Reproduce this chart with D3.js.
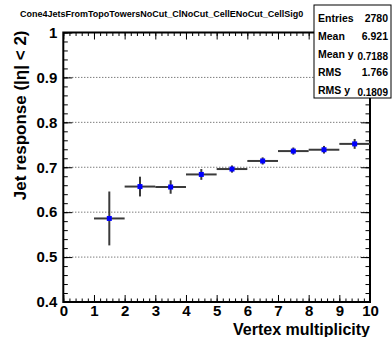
<!DOCTYPE html>
<html>
<head>
<meta charset="utf-8">
<script src="https://cdn.jsdelivr.net/npm/d3@7"></script>
<style>
  body { margin: 0; background: #fff; }
  svg text { font-family: "Liberation Sans", Arial, Helvetica, sans-serif; font-weight: bold; }
</style>
</head>
<body>
<div id="chart"></div>
<script>
// Profile: jet response vs vertex multiplicity
const binCenters = [1.5, 2.5, 3.5, 4.5, 5.5, 6.5, 7.5, 8.5, 9.5];
const responses = [0.586, 0.657, 0.656, 0.684, 0.696, 0.714, 0.736, 0.739, 0.752];
const errors = [0.060, 0.022, 0.015, 0.012, 0.008, 0.008, 0.008, 0.0085, 0.011];
const binHalfWidth = 0.5;

const xTicks = [0, 1, 2, 3, 4, 5, 6, 7, 8, 9, 10];
const yTicks = [0.4, 0.5, 0.6, 0.7, 0.8, 0.9, 1];
const yGrid = [0.5, 0.6, 0.7, 0.8, 0.9];

const statLabels = ['Entries', 'Mean', 'Mean y', 'RMS', 'RMS y'];
const statValues = ['2780', '6.921', '0.7188', '1.766', '0.1809'];

const W = 392, H = 337;
const frame = { left: 63.3, right: 370, top: 32.5, bottom: 302 };

const svg = d3.select('#chart')
    .append('svg')
    .attr('width', W)
    .attr('height', H);

const x = d3.scaleLinear().domain([0, 10]).range([frame.left, frame.right]);
const y = d3.scaleLinear().domain([0.4, 1]).range([frame.bottom, frame.top]);

const xMinor = d3.range(0, 10.001, 0.2).map(v => +v.toFixed(2));
const yMinor = d3.range(0.4, 1.0001, 0.02).map(v => +v.toFixed(2));

// Grid lines
svg.append('g')
    .selectAll('line')
    .data(yGrid)
    .enter()
    .append('line')
    .attr('x1', frame.left)
    .attr('x2', frame.right)
    .attr('y1', d => y(d))
    .attr('y2', d => y(d))
    .attr('stroke', '#444')
    .attr('stroke-width', 1)
    .attr('stroke-dasharray', '1,2');

// Axes helper
function drawAxis(axis, transform, showLabels) {
    const g = svg.append('g')
        .attr('transform', transform)
        .call(axis);
    g.select('.domain').remove();
    g.selectAll('line').attr('stroke', '#000').attr('stroke-width', 1);
    if (!showLabels) g.selectAll('text').remove();
    return g;
}

// Bottom axis
drawAxis(d3.axisBottom(x).tickValues(xMinor).tickSize(-3.5).tickFormat(''),
    `translate(0,${frame.bottom})`, false);
const xAxisG = drawAxis(d3.axisBottom(x).tickValues(xTicks).tickSize(-7).tickPadding(5).tickFormat(d3.format('d')),
    `translate(0,${frame.bottom})`, true);
xAxisG.selectAll('text')
    .style('font-size', '15px')
    .attr('fill', '#000')
    .attr('y', 3)
    .attr('dy', '0.71em');

// Top axis
drawAxis(d3.axisTop(x).tickValues(xMinor).tickSize(-3.5).tickFormat(''),
    `translate(0,${frame.top})`, false);
drawAxis(d3.axisTop(x).tickValues(xTicks).tickSize(-7).tickFormat(''),
    `translate(0,${frame.top})`, false);

// Left axis
drawAxis(d3.axisLeft(y).tickValues(yMinor).tickSize(-4.5).tickFormat(''),
    `translate(${frame.left},0)`, false);
const yAxisG = drawAxis(d3.axisLeft(y).tickValues(yTicks).tickSize(-9).tickPadding(6)
    .tickFormat(d => d === 1 ? '1' : d3.format('.1f')(d)),
    `translate(${frame.left},0)`, true);
yAxisG.selectAll('text')
    .style('font-size', '15px')
    .attr('fill', '#000');

// Right axis
drawAxis(d3.axisRight(y).tickValues(yMinor).tickSize(-4.5).tickFormat(''),
    `translate(${frame.right},0)`, false);
drawAxis(d3.axisRight(y).tickValues(yTicks).tickSize(-9).tickFormat(''),
    `translate(${frame.right},0)`, false);

// Frame
svg.append('rect')
    .attr('x', frame.left)
    .attr('y', frame.top)
    .attr('width', frame.right - frame.left)
    .attr('height', frame.bottom - frame.top)
    .attr('fill', 'none')
    .attr('stroke', '#000')
    .attr('stroke-width', 2);

// Data
const data = binCenters.map((c, i) => ({ x: c, y: responses[i], e: errors[i] }));
const pts = svg.append('g').attr('class', 'points');

pts.selectAll('.hbar')
    .data(data)
    .enter()
    .append('line')
    .attr('class', 'hbar')
    .attr('x1', d => x(d.x - binHalfWidth))
    .attr('x2', d => x(d.x + binHalfWidth))
    .attr('y1', d => y(d.y))
    .attr('y2', d => y(d.y))
    .attr('stroke', '#3a3a3a')
    .attr('stroke-width', 2);

pts.selectAll('.vbar')
    .data(data)
    .enter()
    .append('line')
    .attr('class', 'vbar')
    .attr('x1', d => x(d.x))
    .attr('x2', d => x(d.x))
    .attr('y1', d => y(d.y - d.e))
    .attr('y2', d => y(d.y + d.e))
    .attr('stroke', '#3a3a3a')
    .attr('stroke-width', 2);

pts.selectAll('.marker')
    .data(data)
    .enter()
    .append('rect')
    .attr('class', 'marker')
    .attr('x', d => x(d.x) - 2.5)
    .attr('y', d => y(d.y) - 2.5)
    .attr('width', 5)
    .attr('height', 5)
    .attr('fill', '#0000ff');

// Title
svg.append('text')
    .attr('x', 20)
    .attr('y', 17)
    .style('font-size', '9px')
    .attr('fill', '#000')
    .text('Cone4JetsFromTopoTowersNoCut_ClNoCut_CellENoCut_CellSig0');

// Axis titles
svg.append('text')
    .attr('transform', `translate(26,${frame.top - 2}) rotate(-90)`)
    .attr('text-anchor', 'end')
    .style('font-size', '17px')
    .attr('fill', '#000')
    .text('Jet response (|η| < 2)');

svg.append('text')
    .attr('x', frame.right)
    .attr('y', 335)
    .attr('text-anchor', 'end')
    .style('font-size', '16px')
    .attr('fill', '#000')
    .text('Vertex multiplicity');

// Stats box
const box = { x: 314, y: 5, w: 77, h: 93 };
svg.append('rect')
    .attr('x', box.x)
    .attr('y', box.y)
    .attr('width', box.w)
    .attr('height', box.h)
    .attr('fill', '#fff')
    .attr('stroke', '#000')
    .attr('stroke-width', 1);

const rowY = d3.scaleLinear().domain([0, statLabels.length - 1]).range([22, 94]);
statLabels.forEach((lab, i) => {
    const isY = lab.endsWith(' y');
    svg.append('text')
        .attr('x', box.x + 4)
        .attr('y', rowY(i))
        .style('font-size', '10.5px')
        .attr('fill', '#000')
        .text(lab);
    svg.append('text')
        .attr('x', box.x + box.w - 3)
        .attr('y', rowY(i) + (isY ? 2 : 0))
        .attr('text-anchor', 'end')
        .style('font-size', isY ? '10px' : '10.5px')
        .attr('fill', '#000')
        .text(statValues[i]);
});
</script>
</body>
</html>
